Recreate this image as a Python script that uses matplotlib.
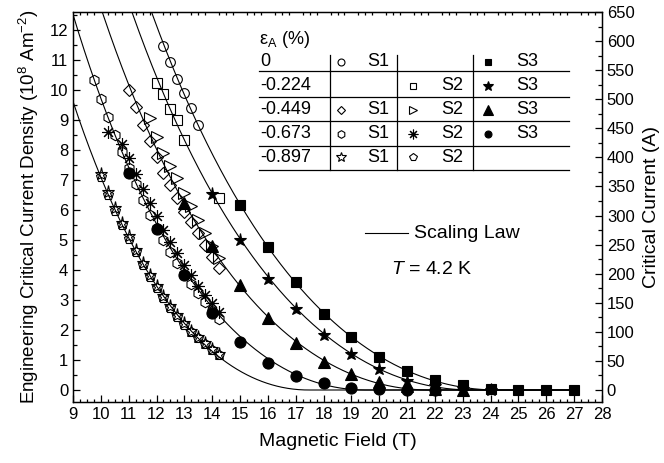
import numpy as np
import matplotlib
matplotlib.use("Agg")
import matplotlib.pyplot as plt
from matplotlib.ticker import MultipleLocator

plt.rcParams['font.family'] = ['Liberation Sans', 'DejaVu Sans']
plt.rcParams['mathtext.fontset'] = 'custom'
plt.rcParams['mathtext.rm'] = 'Liberation Sans'
plt.rcParams['mathtext.it'] = 'Liberation Sans:italic'

# ---------------- measured critical current density (10^8 A/m^2) ----------------
# strain 0 %
b_e0_s1 = [12.25, 12.5, 12.75, 13.0, 13.25, 13.5]
j_e0_s1 = [11.48, 10.93, 10.38, 9.89, 9.39, 8.82]
b_e0_s3 = [15, 16, 17, 18, 19, 20, 21, 22, 23, 24, 25, 26, 27]
j_e0_s3 = [6.16, 4.77, 3.59, 2.53, 1.76, 1.11, 0.64, 0.33, 0.17, 0.04, 0.0, 0.0, 0.0]

# strain -0.224 %
b_e1_s2 = [12.0, 12.25, 12.5, 12.75, 13.0, 14.25]
j_e1_s2 = [10.22, 9.87, 9.38, 8.99, 8.33, 6.41]
b_e1_s3 = [14, 15, 16, 17, 18, 19, 20, 21, 22, 23, 24]
j_e1_s3 = [6.52, 5.0, 3.71, 2.70, 1.83, 1.19, 0.70, 0.30, 0.15, 0.05, 0.01]

# strain -0.449 %
b_e2_s1 = [11.0, 11.25, 11.5, 11.75, 12.0, 12.25, 12.5, 12.75, 13.0, 13.25, 13.5, 13.75, 14.0, 14.25]
j_e2_s1 = [10.0, 9.44, 8.83, 8.31, 7.76, 7.22, 6.85, 6.40, 5.94, 5.60, 5.25, 4.85, 4.45, 4.08]
b_e2_s2 = [11.75, 12.0, 12.25, 12.5, 12.75, 13.0, 13.25, 13.5, 13.75, 14.0, 14.25]
j_e2_s2 = [9.06, 8.42, 7.90, 7.48, 7.06, 6.58, 6.12, 5.67, 5.25, 4.80, 4.40]
b_e2_s3 = [13, 14, 15, 16, 17, 18, 19, 20, 21, 22, 23]
j_e2_s3 = [6.25, 4.80, 3.50, 2.39, 1.56, 0.92, 0.53, 0.28, 0.12, 0.05, 0.01]

# strain -0.673 %
b_e3_s1 = [9.75, 10.0, 10.25, 10.5, 10.75, 11.0, 11.25, 11.5, 11.75, 12.0,
           12.25, 12.5, 12.75, 13.0, 13.25, 13.5, 13.75, 14.0, 14.25]
j_e3_s1 = [10.33, 9.70, 9.09, 8.50, 7.94, 7.39, 6.87, 6.33, 5.85, 5.40,
           5.00, 4.60, 4.22, 3.88, 3.55, 3.23, 2.93, 2.63, 2.37]
b_e3_s2 = [10.25, 10.75, 11.0, 11.25, 11.5, 11.75, 12.0, 12.25, 12.5, 12.75,
           13.0, 13.25, 13.5, 13.75, 14.0, 14.25]
j_e3_s2 = [8.61, 8.20, 7.72, 7.20, 6.69, 6.24, 5.80, 5.33, 4.92, 4.56,
           4.17, 3.83, 3.47, 3.17, 2.89, 2.61]
b_e3_s3 = [11, 12, 13, 14, 15, 16, 17, 18, 19, 20, 21, 22]
j_e3_s3 = [7.24, 5.36, 3.82, 2.56, 1.59, 0.91, 0.48, 0.22, 0.08, 0.03, 0.01, 0.0]

# strain -0.897 %
b_e4_s1 = [10.0, 10.25, 10.5, 10.75, 11.0, 11.25, 11.5, 11.75, 12.0, 12.25,
           12.5, 12.75, 13.0, 13.25, 13.5, 13.75, 14.0, 14.25]
j_e4_s1 = [7.20, 6.60, 6.06, 5.58, 5.13, 4.68, 4.23, 3.83, 3.46, 3.12,
           2.79, 2.50, 2.22, 1.98, 1.76, 1.56, 1.37, 1.19]
b_e4_s2 = b_e4_s1
j_e4_s2 = [7.10, 6.50, 5.98, 5.50, 5.05, 4.60, 4.16, 3.77, 3.40, 3.06,
           2.74, 2.45, 2.18, 1.94, 1.72, 1.52, 1.33, 1.16]

strain_labels = ["0", "-0.224", "-0.449", "-0.673", "-0.897"]

# conversion: engineering current density -> critical current (A)
amps_per_unit = 650 / 12.6

# ---------------- marker styles ----------------
open_kw = dict(linestyle='none', mfc='none', mec='black', mew=0.8)
fill_kw = dict(linestyle='none', mfc='black', mec='black', mew=0.8)
asterisk = (8, 2, 0)

series = [
    # (B, J, marker, size, filled, strain index)
    (b_e0_s1, j_e0_s1, 'o', 7, False, 0),
    (b_e0_s3, j_e0_s3, 's', 6.5, True, 0),
    (b_e1_s2, j_e1_s2, 's', 6.5, False, 1),
    (b_e1_s3, j_e1_s3, '*', 9.5, True, 1),
    (b_e2_s1, j_e2_s1, 'D', 6, False, 2),
    (b_e2_s2, j_e2_s2, '>', 8, False, 2),
    (b_e2_s3, j_e2_s3, '^', 8, True, 2),
    (b_e3_s1, j_e3_s1, 'h', 7.5, False, 3),
    (b_e3_s2, j_e3_s2, asterisk, 9, False, 3),
    (b_e3_s3, j_e3_s3, 'o', 8, True, 3),
    (b_e4_s1, j_e4_s1, '*', 9.5, False, 4),
    (b_e4_s2, j_e4_s2, 'p', 7.5, False, 4),
]


def scaling_shape(b, bc2):
    red = np.clip(1.0 - np.asarray(b, float) / bc2, 0.0, None)
    return np.asarray(b, float) ** -0.5 * red ** 2


def fit_scaling(b, j):
    b = np.asarray(b, float)
    j = np.asarray(j, float)
    best = None
    for bc2 in np.arange(15.0, 32.0, 0.01):
        g = scaling_shape(b, bc2)
        c = np.dot(g, j) / np.dot(g, g)
        err = np.sum((j - c * g) ** 2)
        if best is None or err < best[0]:
            best = (err, bc2, c)
    return best[1], best[2]


fig = plt.figure(figsize=(6.64, 4.63), dpi=100)
ax = fig.add_axes([73 / 664, 1 - 402 / 463, 529 / 664, 390 / 463])

# Kramer-type scaling law curve for each strain state
bfine = np.linspace(9.0, 27.0, 900)
for k in range(5):
    bb, jj = [], []
    for b, j, m, s, f, idx in series:
        if idx == k:
            bb += list(b)
            jj += list(j)
    bc2, c = fit_scaling(bb, jj)
    ax.plot(bfine, c * scaling_shape(bfine, bc2), color='black', lw=0.8, zorder=2)

for b, j, m, s, f, idx in series:
    kw = fill_kw if f else open_kw
    ax.plot(b, j, marker=m, markersize=s, zorder=3, **kw)

ax.set_xlim(9, 28)
ax.set_ylim(-0.4, 12.6)
ax.xaxis.set_major_locator(MultipleLocator(1))
ax.xaxis.set_minor_locator(MultipleLocator(0.25))
ax.yaxis.set_major_locator(MultipleLocator(1))
ax.yaxis.set_minor_locator(MultipleLocator(0.5))
ax.tick_params(which='both', direction='in', top=True, labelsize=12, width=0.9)
ax.tick_params(which='major', length=5)
ax.tick_params(which='minor', length=3)
ax.tick_params(axis='x', which='major', top=False)
ax.tick_params(axis='x', which='minor', top=True, length=2)
for sp in ax.spines.values():
    sp.set_linewidth(1.0)
ax.set_xlabel("Magnetic Field (T)", fontsize=14, labelpad=8)
ax.set_ylabel("Engineering Critical Current Density (10$^{8}$ Am$^{-2}$)", fontsize=13.5, labelpad=6)

ax2 = ax.twinx()
ax2.set_ylim(-0.4 * amps_per_unit, 12.6 * amps_per_unit)
ax2.yaxis.set_major_locator(MultipleLocator(50))
ax2.yaxis.set_minor_locator(MultipleLocator(25))
ax2.tick_params(which='both', direction='in', labelsize=12, width=0.9)
ax2.tick_params(which='major', length=5)
ax2.tick_params(which='minor', length=3)
ax2.set_ylabel("Critical Current (A)", fontsize=14, labelpad=6)


# ---------------- strain / sample table ----------------
def px(x, y):
    return ((x - 73) / 529, (402 - y) / 390)


tr = ax.transAxes
ax.text(*px(259, 40), "ε$_{\\mathrm{A}}$ (%)", transform=tr, fontsize=13, va='center', ha='left')

row_y = [62, 86, 110, 134, 157]
line_y = [71, 96.5, 121, 145.5, 170]
for yy in line_y:
    x0, y0 = px(259, yy)
    x1, _ = px(569, yy)
    ax.plot([x0, x1], [y0, y0], color='black', lw=0.9, transform=tr, clip_on=False)
for xx in [330, 396.5, 473]:
    x0, y0 = px(xx, 55)
    _, y1 = px(xx, 170)
    ax.plot([x0, x0], [y0, y1], color='black', lw=0.9, transform=tr, clip_on=False)

for lab, yy in zip(strain_labels, row_y):
    ax.text(*px(260, yy), lab, transform=tr, fontsize=13, va='center', ha='left')

col_marker_x = {1: 341, 2: 413, 3: 488}
col_text_x = {1: 378, 2: 452, 3: 527}
table_entries = [
    (0, 1, 'o', False), (0, 3, 's', True),
    (1, 2, 's', False), (1, 3, '*', True),
    (2, 1, 'D', False), (2, 2, '>', False), (2, 3, '^', True),
    (3, 1, 'h', False), (3, 2, asterisk, False), (3, 3, 'o', True),
    (4, 1, '*', False), (4, 2, 'p', False),
]
size_tbl = {'o': 5, 's': 5, '*': 7.5, 'D': 4.5, '>': 6, '^': 6.5, 'h': 5.5, 'p': 5.5, asterisk: 7}
for row, col, m, f in table_entries:
    kw = fill_kw if f else open_kw
    xm, ym = px(col_marker_x[col], row_y[row])
    ax.plot([xm], [ym], marker=m, markersize=size_tbl[m], transform=tr, clip_on=False, **kw)
    ax.text(*px(col_text_x[col], row_y[row]), f"S{col}", transform=tr, fontsize=13,
            va='center', ha='center')

# curve key and temperature
x0, y0 = px(365, 233)
x1, _ = px(408, 233)
ax.plot([x0, x1], [y0, y0], color='black', lw=0.8, transform=tr)
ax.text(*px(414, 233), "Scaling Law", transform=tr, fontsize=14, va='center', ha='left')
ax.text(*px(391, 270), r"$T$ = 4.2 K", transform=tr, fontsize=14, va='center', ha='left')

fig.savefig("out.png", dpi=100)
